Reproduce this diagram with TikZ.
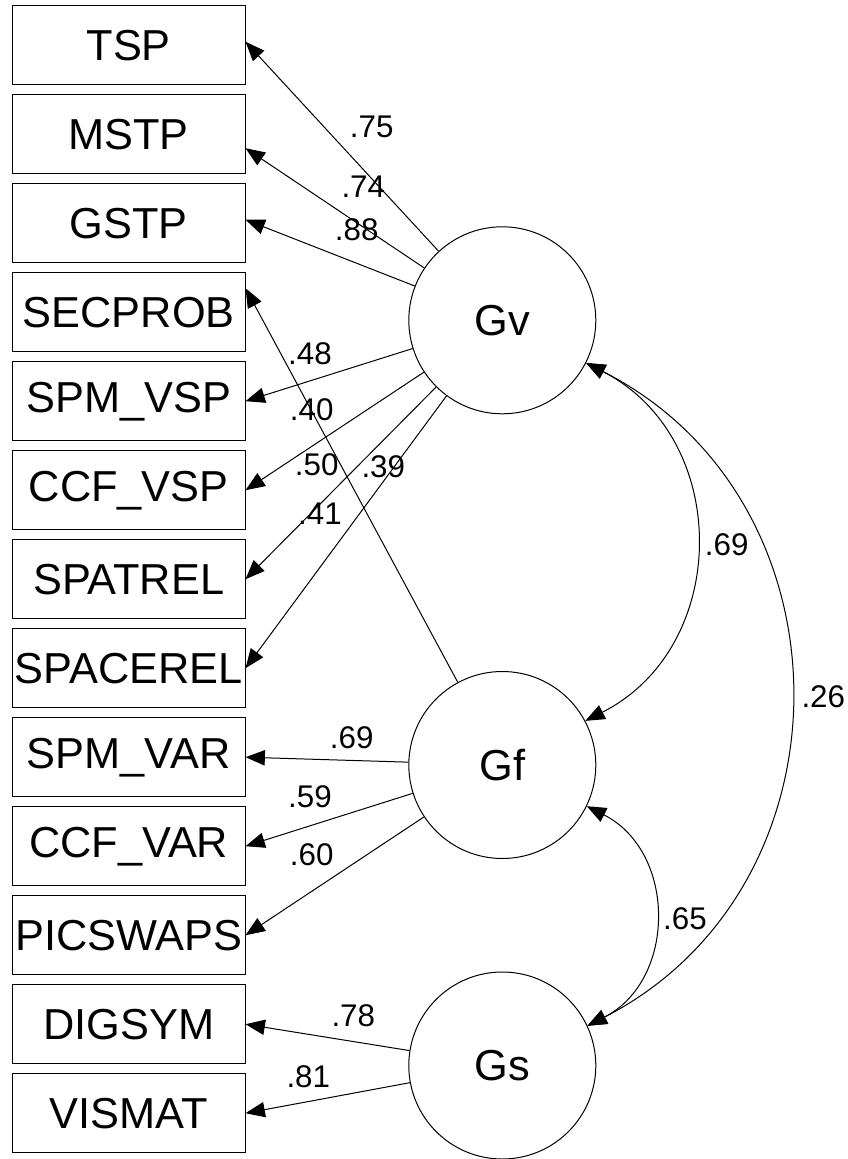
\documentclass[tikz,border=0pt]{standalone}
\usepackage{fontspec}
\setmainfont{Liberation Sans}
\usetikzlibrary{arrows.meta}

\tikzset{
  obs/.style={draw, rectangle, line width=0.75pt, minimum width=174.5pt, minimum height=59.25pt, inner sep=0pt, font=\fontsize{32.5}{36}\selectfont},
  lat/.style={draw, circle, line width=0.75pt, minimum size=140.25pt, inner sep=0pt, font=\fontsize{32.5}{36}\selectfont},
  coef/.style={inner sep=0pt, font=\fontsize{23.5}{27}\selectfont},
  load/.style={-{Triangle[length=14.5pt, width=11.5pt]}, line width=0.75pt},
  cov/.style={{Triangle[length=14.5pt, width=11.5pt]}-{Triangle[length=14.5pt, width=11.5pt]}, line width=0.75pt, bend left=63, looseness=1.17},
}

\begin{document}
\begin{tikzpicture}[x=0.75pt, y=-0.75pt]
\useasboundingbox (0,0) rectangle (847,1159);

% observed variables
\node[obs] (tsp) at (128.7,45.2) {TSP};
\node[obs] (mstp) at (128.7,134.2) {MSTP};
\node[obs] (gstp) at (128.7,223.2) {GSTP};
\node[obs] (secprob) at (128.7,312.2) {SECPROB};
\node[obs] (spmvsp) at (128.7,401.2) {SPM\_VSP};
\node[obs] (ccfvsp) at (128.7,490.2) {CCF\_VSP};
\node[obs] (spatrel) at (128.7,579.2) {SPATREL};
\node[obs] (spacerel) at (128.7,668.2) {SPACEREL};
\node[obs] (spmvar) at (128.7,757.2) {SPM\_VAR};
\node[obs] (ccfvar) at (128.7,846.2) {CCF\_VAR};
\node[obs] (picswaps) at (128.7,935.2) {PICSWAPS};
\node[obs] (digsym) at (128.7,1024.2) {DIGSYM};
\node[obs] (vismat) at (128.7,1113.2) {VISMAT};

% latent factors
\node[lat] (gv) at (502.3,320.3) {Gv};
\node[lat] (gf) at (502.3,765) {Gf};
\node[lat] (gs) at (502.3,1065.5) {Gs};

% loadings
\draw[load] (gv) -- ([yshift=2.6pt]tsp.east);
\draw[load] (gv) -- ([yshift=-10.5pt]mstp.east);
\draw[load] (gv) -- ([yshift=2.6pt]gstp.east);
\draw[load] (gf) -- ([yshift=18pt]secprob.east);
\draw[load] (gv) -- (spmvsp.east);
\draw[load] (gv) -- (ccfvsp.east);
\draw[load] (gv) -- (spatrel.east);
\draw[load] (gv) -- (spacerel.east);
\draw[load] (gf) -- (spmvar.east);
\draw[load] (gf) -- (ccfvar.east);
\draw[load] (gf) -- (picswaps.east);
\draw[load] (gs) -- (digsym.east);
\draw[load] (gs) -- (vismat.east);

% correlations
\draw[cov] (gv.-27.5) to (gf.28.5);
\draw[cov] (gf.-26) to (gs.25.6);
\draw[cov] (gv.-27.5) to (gs.25.6);

\node[coef] (ctsp) at (371.7,126.7) {.75};
\node[coef] (cmstp) at (363.3,186.7) {.74};
\node[coef] (cgstp) at (356.7,230) {.88};
\node[coef] (csecprob) at (310,353.3) {.48};
\node[coef] (cspmvsp) at (311.7,410) {.40};
\node[coef] (cccfvsp) at (316.7,465) {.50};
\node[coef] (cspacerel) at (383.3,466.7) {.39};
\node[coef] (cspatrel) at (320,513.3) {.41};
\node[coef] (cspmvar) at (351.7,737.3) {.69};
\node[coef] (cccfvar) at (310,796.7) {.59};
\node[coef] (cpicswaps) at (311.7,855) {.60};
\node[coef] (cdigsym) at (353.3,1016) {.78};
\node[coef] (cvismat) at (308.3,1076.7) {.81};
\node[coef] (cgvgf) at (726.7,545) {.69};
\node[coef] (cgvgs) at (823.3,696.7) {.26};
\node[coef] (cgfgs) at (685,918.3) {.65};
\end{tikzpicture}
\end{document}
